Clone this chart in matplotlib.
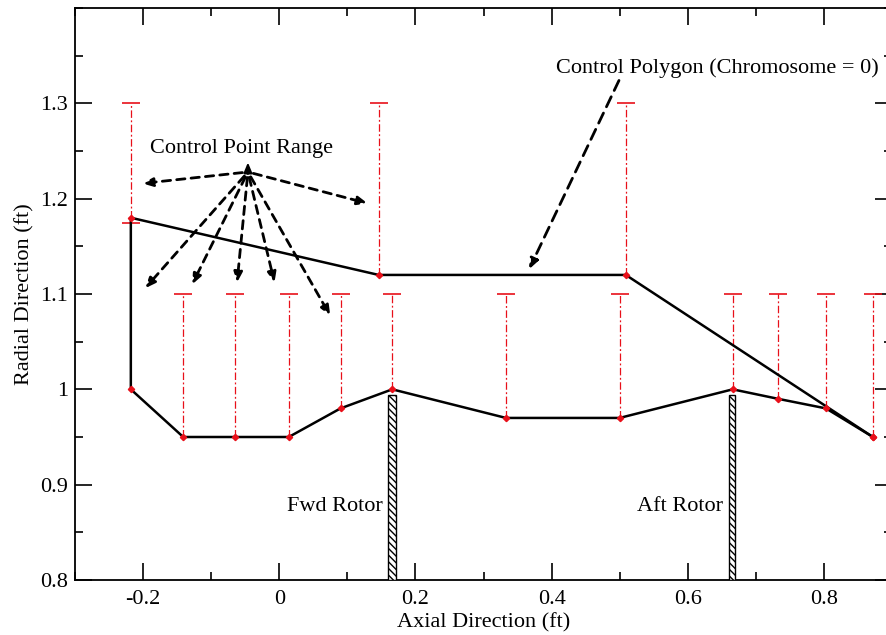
import numpy as np
import matplotlib
matplotlib.use('Agg')
import matplotlib.pyplot as plt
from matplotlib.patches import Rectangle
from matplotlib.ticker import MultipleLocator

plt.rcParams['font.family'] = 'Liberation Serif'

# control polygon, lower (hub) side
low_x = [-0.218, -0.141, -0.065, 0.014, 0.090, 0.166, 0.333, 0.500, 0.666, 0.733, 0.803, 0.872]
low_y = [1.00, 0.95, 0.95, 0.95, 0.98, 1.00, 0.97, 0.97, 1.00, 0.99, 0.98, 0.95]
low_max = 1.1  # upper end of the lower control point range

# control polygon, upper (casing) side
up_x = [-0.218, 0.146, 0.509, 0.872]
up_y = [1.18, 1.12, 1.12, 0.95]
up_max = 1.3

# rotors (x from, x to, top)
rotor_x0 = [0.160, 0.660]
rotor_x1 = [0.172, 0.670]
rotor_top = [0.994, 0.994]
rotor_names = ['Fwd Rotor', 'Aft Rotor']

fs = 16

fig = plt.figure(figsize=(8.86, 6.35), dpi=100)
ax = fig.add_axes([75/886, 1-580/635, (892-75)/886, (580-8)/635])

red = '#e8101a'
# ranges of the lower points
for x, y in zip(low_x[1:], low_y[1:]):
    ax.plot([x, x], [y, low_max], color=red, ls=(0, (6, 2, 1.5, 2)), lw=0.9)
    ax.plot(x, low_max, marker='_', ms=13, mew=1.2, color=red)
# ranges of the upper points
for x, y in zip(up_x[:-1], up_y[:-1]):
    ax.plot([x, x], [y, up_max], color=red, ls=(0, (6, 2, 1.5, 2)), lw=0.9)
    ax.plot(x, up_max, marker='_', ms=13, mew=1.2, color=red)
ax.plot(up_x[0], up_y[0] - 0.005, marker='_', ms=13, mew=1.2, color=red)

# black polygon
ax.plot(low_x, low_y, color='k', lw=1.8, zorder=3)
ax.plot([low_x[0]] + up_x, [low_y[0]] + up_y, color='k', lw=1.8, zorder=3)
ax.plot(low_x, low_y, 'D', color=red, ms=3.2, zorder=4)
ax.plot(up_x, up_y, 'D', color=red, ms=3.2, zorder=4)

# rotors
for x0, x1, top, name in zip(rotor_x0, rotor_x1, rotor_top, rotor_names):
    ax.add_patch(Rectangle((x0, 0.8), x1 - x0, top - 0.8, facecolor='white',
                           edgecolor='k', lw=1.0, hatch='\\\\\\\\\\', zorder=5))
    ax.text(x0 - 0.008, 0.877, name, ha='right', va='center', fontsize=fs)

# annotations
ax.text(-0.055, 1.253, 'Control Point Range', ha='center', va='center', fontsize=fs)
src = (-0.046, 1.228)
targets = [(-0.201, 1.216), (0.130, 1.195), (-0.197, 1.106), (-0.128, 1.110),
           (-0.062, 1.112), (-0.007, 1.112), (0.075, 1.077)]
for t in targets:
    ax.annotate('', xy=t, xytext=src,
                arrowprops=dict(arrowstyle='-|>,head_length=0.6,head_width=0.25',
                                color='k', lw=2.0, ls=(0, (3, 2.2)),
                                shrinkA=4, shrinkB=0))
ax.annotate('', xy=(-0.046, 1.238), xytext=(-0.046, 1.226),
            arrowprops=dict(arrowstyle='-|>,head_length=0.6,head_width=0.25',
                            color='k', lw=1.5, shrinkA=0, shrinkB=0))

ax.text(0.643, 1.337, 'Control Polygon (Chromosome = 0)', ha='center', va='center', fontsize=fs)
ax.annotate('', xy=(0.367, 1.126), xytext=(0.499, 1.324),
            arrowprops=dict(arrowstyle='-|>,head_length=0.6,head_width=0.25',
                            color='k', lw=2.0, ls=(0, (4, 2.5)),
                            shrinkA=0, shrinkB=0))

ax.set_xlim(-0.3, 0.9)
ax.set_ylim(0.8, 1.4)
ax.set_xticks([-0.2, 0, 0.2, 0.4, 0.6, 0.8])
ax.set_xticklabels(['-0.2', '0', '0.2', '0.4', '0.6', '0.8'])
ax.set_yticks([0.8, 0.9, 1.0, 1.1, 1.2, 1.3])
ax.set_yticklabels(['0.8', '0.9', '1', '1.1', '1.2', '1.3'])
ax.xaxis.set_minor_locator(MultipleLocator(0.1))
ax.yaxis.set_minor_locator(MultipleLocator(0.05))
ax.tick_params(which='both', direction='in', top=True, right=True, labelsize=fs, width=1.2)
ax.tick_params(which='major', length=12)
ax.tick_params(which='minor', length=6)
ax.tick_params(axis='x', pad=7)
ax.tick_params(axis='y', pad=5)
for s in ax.spines.values():
    s.set_linewidth(1.3)

ax.set_xlabel('Axial Direction (ft)', fontsize=fs, labelpad=3)
ax.set_ylabel('Radial Direction (ft)', fontsize=fs, labelpad=4)

fig.savefig('out.png', dpi=100)
